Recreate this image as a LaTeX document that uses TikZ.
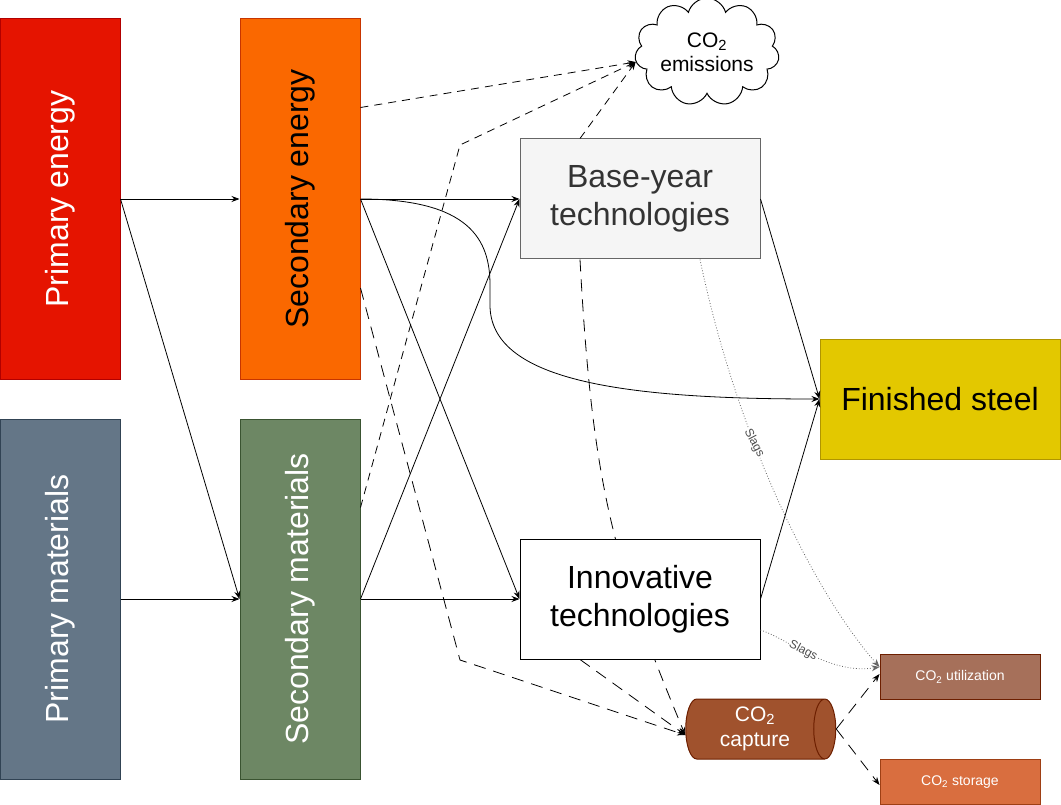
\documentclass[tikz,border=0pt]{standalone}
\usepackage{fontspec}
\setmainfont{Liberation Sans}
\usetikzlibrary{shapes.geometric,shapes.symbols,arrows.meta,backgrounds}

\definecolor{penergy}{HTML}{E51400}
\definecolor{penergyline}{HTML}{B20000}
\definecolor{senergy}{HTML}{FA6800}
\definecolor{senergyline}{HTML}{C73500}
\definecolor{pmat}{HTML}{647687}
\definecolor{pmatline}{HTML}{314354}
\definecolor{smat}{HTML}{6D8764}
\definecolor{smatline}{HTML}{3A5431}
\definecolor{basefill}{HTML}{F5F5F5}
\definecolor{baseline}{HTML}{666666}
\definecolor{basetext}{HTML}{333333}
\definecolor{steel}{HTML}{E3C800}
\definecolor{steelline}{HTML}{B09500}
\definecolor{capfill}{HTML}{A0522D}
\definecolor{capline}{HTML}{6D1F00}
\definecolor{utilfill}{HTML}{A6705A}
\definecolor{storfill}{HTML}{D96E3F}
\definecolor{storline}{HTML}{9E3F14}

\begin{document}
\begin{tikzpicture}[
    x=1pt, y=-1pt,
    tallbox/.style={rectangle, draw, line width=1pt, minimum width=120pt, minimum height=360pt},
    vlabel/.style={rotate=90, font=\fontsize{32}{38}\selectfont},
    techbox/.style={rectangle, draw, line width=1pt, minimum width=240pt, minimum height=120pt, align=center, font=\fontsize{32}{38}\selectfont},
    co2box/.style={rectangle, draw, line width=1pt, minimum width=160pt, minimum height=45pt, text=white, font=\fontsize{14}{17}\selectfont},
    arrow/.style={-{Stealth[length=8pt,width=6pt]}, line width=0.8pt},
    dashline/.style={arrow, dash pattern=on 8pt off 6pt},
    longdash/.style={arrow, dash pattern=on 12pt off 8pt},
    slagline/.style={arrow, draw=black!60, dotted},
    slag/.style={font=\fontsize{12}{14}\selectfont, text=black!70, fill=white, inner sep=1pt}
]
\useasboundingbox (0,0) rectangle (1061,805);

% Energy and materials
\node[tallbox, fill=penergy, draw=penergyline, label={[vlabel, text=white]center:Primary energy}] (pe) at (60,199) {};
\node[tallbox, fill=senergy, draw=senergyline, label={[vlabel]center:Secondary energy}] (se) at (300,199) {};
\node[tallbox, fill=pmat, draw=pmatline, label={[vlabel, text=white]center:Primary materials}] (pm) at (60,599) {};
\node[tallbox, fill=smat, draw=smatline, label={[vlabel, text=white]center:Secondary materials}] (sm) at (300,599) {};

% Technologies and output
\node[techbox, fill=basefill, draw=baseline, text=basetext] (base) at (640,199) {Base-year\\technologies};
\node[techbox, fill=white] (innov) at (640,599) {Innovative\\technologies};
\node[techbox, fill=steel, draw=steelline] (steel) at (940,399) {Finished steel};

% CO2 side
\node[cloud, draw, line width=1pt, cloud puffs=11, aspect=1.6, minimum width=136pt, minimum height=86pt, inner sep=0pt, align=center, font=\fontsize{21}{24}\selectfont] (cloud) at (707,52) {CO\textsubscript{2}\\emissions};
\node[cylinder, draw=capline, line width=1pt, cylinder uses custom fill, cylinder body fill=capfill, cylinder end fill=capfill, aspect=0.5, minimum width=60pt, minimum height=150pt, inner sep=0pt, text=white, align=center, font=\fontsize{21}{25}\selectfont] (cap) at (755,729) {CO\textsubscript{2}\\capture};
\node[co2box, fill=utilfill, draw=capline] (util) at (960,677) {CO\textsubscript{2} utilization};
\node[co2box, fill=storfill, draw=storline] (stor) at (960,782) {CO\textsubscript{2} storage};

% Hidden behind the innovative box
\begin{scope}[on background layer]
    \draw[longdash] ([xshift=-60pt]base.south) .. controls (592,480) and (612,560) .. ([yshift=-6pt]cap.west);
\end{scope}

% Arrows
\draw[arrow] (pe.east) -- (se.west);
\draw[arrow] (pe.east) -- (sm.west);
\draw[arrow] (pm.east) -- (sm.west);
\draw[arrow] (se.east) -- (base.west);
\draw[arrow] (se.east) -- (innov.west);
\draw[arrow] (sm.east) -- (base.west);
\draw[arrow] (sm.east) -- (innov.west);
\draw[arrow] (base.east) -- (steel.west);
\draw[arrow] (innov.east) -- (steel.west);
\draw[arrow] (se.east) .. controls (470,199) and (490,240) .. (490,285) -- (490,305) .. controls (490,380) and (620,399) .. (steel.west);

% Emissions
\draw[dashline] ([yshift=-89pt]se.north east) -- ([yshift=-10pt]cloud.west);
\draw[dashline] ([yshift=-89pt]sm.north east) -- (460,145) -- ([yshift=-10pt]cloud.west);
\draw[dashline] ([xshift=-60pt]base.north) -- ([yshift=-10pt]cloud.west);

% Capture, use and storage
\draw[longdash] ([yshift=-89pt]se.east) -- (460,660) -- ([yshift=-6pt]cap.west);
\draw[longdash] ([xshift=-60pt]innov.south) -- ([yshift=-6pt]cap.west);
\draw[longdash] (cap.east) -- ([yshift=3pt]util.west);
\draw[longdash] (cap.east) -- ([yshift=-3pt]stor.west);

% Slags
\draw[slagline] ([xshift=60pt]base.south) .. controls (740,450) and (820,600) .. ([yshift=10pt]util.west)
    node[slag, pos=0.35, rotate=-62] (slagA) {Slags};
\draw[slagline] ([yshift=-31pt]innov.east) .. controls (790,640) and (830,675) .. ([yshift=10pt]util.west)
    node[slag, pos=0.42, rotate=-28] (slagB) {Slags};

\end{tikzpicture}
\end{document}
